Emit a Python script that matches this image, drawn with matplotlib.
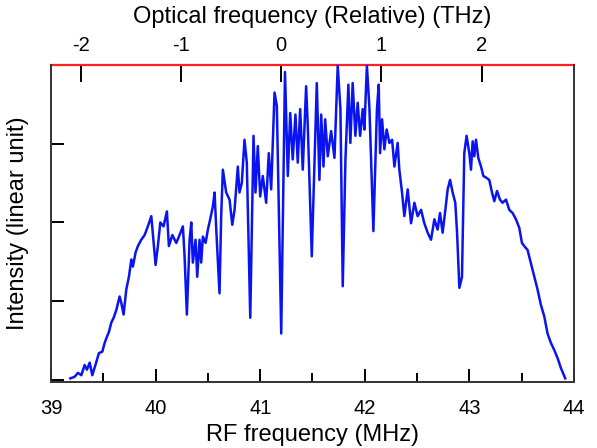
import matplotlib
matplotlib.use('Agg')
import matplotlib.pyplot as plt

rf_mhz = [39.185, 39.226, 39.258, 39.290, 39.322, 39.344, 39.370, 39.395, 39.434, 39.458,
          39.491, 39.513, 39.535, 39.554, 39.577, 39.599, 39.625, 39.656, 39.672, 39.694,
          39.720, 39.745, 39.768, 39.783, 39.809, 39.831, 39.863, 39.895, 39.926, 39.959,
          39.981, 40.000, 40.022, 40.045, 40.076, 40.108, 40.127, 40.160, 40.198, 40.229,
          40.261, 40.277, 40.299, 40.325, 40.341, 40.356, 40.382, 40.398, 40.420, 40.436,
          40.452, 40.478, 40.500, 40.522, 40.547, 40.564, 40.580, 40.611, 40.627, 40.643,
          40.675, 40.707, 40.733, 40.755, 40.786, 40.802, 40.824, 40.850, 40.872, 40.905,
          40.936, 40.955, 40.977, 41.000, 41.025, 41.057, 41.082, 41.105, 41.137, 41.159,
          41.201, 41.237, 41.264, 41.287, 41.311, 41.337, 41.359, 41.382, 41.407, 41.439,
          41.455, 41.493, 41.541, 41.566, 41.583, 41.605, 41.621, 41.646, 41.678, 41.710,
          41.741, 41.767, 41.789, 41.815, 41.843, 41.862, 41.884, 41.910, 41.932, 41.955,
          41.980, 41.996, 42.020, 42.044, 42.082, 42.116, 42.133, 42.146, 42.165, 42.187,
          42.209, 42.235, 42.261, 42.283, 42.314, 42.330, 42.356, 42.378, 42.410, 42.442,
          42.474, 42.505, 42.538, 42.569, 42.601, 42.633, 42.665, 42.696, 42.719, 42.744,
          42.770, 42.792, 42.815, 42.840, 42.865, 42.882, 42.904, 42.929, 42.951, 42.973,
          42.999, 43.015, 43.031, 43.047, 43.063, 43.085, 43.111, 43.133, 43.159, 43.190,
          43.216, 43.238, 43.264, 43.292, 43.317, 43.350, 43.381, 43.413, 43.445, 43.477,
          43.502, 43.524, 43.556, 43.588, 43.620, 43.651, 43.684, 43.715, 43.747, 43.779,
          43.811, 43.842, 43.875, 43.916]

intensidad = [0.02, 0.04, 0.09, 0.06, 0.19, 0.13, 0.22, 0.06, 0.23, 0.34,
              0.36, 0.47, 0.55, 0.61, 0.73, 0.79, 0.89, 1.06, 0.98, 0.83,
              1.15, 1.31, 1.53, 1.44, 1.62, 1.70, 1.78, 1.84, 1.95, 2.08,
              1.74, 1.46, 1.70, 2.00, 1.95, 2.14, 1.70, 1.84, 1.74, 1.84,
              1.95, 1.57, 0.83, 1.78, 2.00, 1.49, 1.78, 1.31, 1.78, 1.49,
              1.82, 1.74, 1.91, 2.04, 2.20, 2.38, 1.91, 1.10, 2.08, 2.67,
              2.38, 2.29, 1.97, 2.16, 2.71, 2.38, 2.50, 3.05, 2.76, 0.79,
              3.10, 2.38, 2.97, 2.33, 2.59, 2.25, 2.88, 2.42, 3.65, 3.48,
              0.59, 3.91, 2.59, 3.39, 2.80, 3.37, 2.76, 3.44, 2.67, 3.73,
              3.22, 1.57, 3.77, 2.54, 3.37, 2.71, 3.31, 2.84, 3.16, 2.82,
              3.99, 3.44, 1.19, 2.80, 3.75, 3.01, 3.77, 3.10, 3.52, 3.10,
              3.44, 3.18, 3.99, 3.46, 1.89, 3.44, 3.75, 2.88, 3.31, 2.93,
              3.18, 3.01, 3.05, 2.71, 3.01, 2.67, 2.38, 2.08, 2.42, 1.99,
              2.25, 2.08, 2.16, 1.99, 1.87, 1.78, 2.04, 1.91, 2.12, 1.87,
              2.16, 2.42, 2.54, 2.38, 2.25, 1.87, 1.17, 1.31, 2.88, 3.10,
              2.88, 2.67, 3.03, 2.84, 3.05, 2.82, 2.71, 2.59, 2.57, 2.54,
              2.38, 2.27, 2.40, 2.29, 2.25, 2.29, 2.16, 2.12, 2.04, 1.93,
              1.74, 1.70, 1.65, 1.48, 1.31, 1.15, 0.95, 0.81, 0.59, 0.47,
              0.38, 0.28, 0.15, 0.02]

rf_ticks = [39, 40, 41, 42, 43, 44]
thz_ticks = [-2, -1, 0, 1, 2]

# ESCALA OPTICA: 0 THz EN 41.20 MHz, 0.958 MHz POR THz
RF_CERO = 41.20
MHZ_POR_THZ = 0.958

def rf_a_thz(x):
    return (x - RF_CERO) / MHZ_POR_THZ

def thz_a_rf(t):
    return t * MHZ_POR_THZ + RF_CERO

plt.rcParams['font.family'] = ['Liberation Sans', 'DejaVu Sans']
plt.rcParams['axes.unicode_minus'] = False

fig = plt.figure(figsize=(5.97, 4.48), dpi=100)
ax = fig.add_axes([0.0854, 0.1484, 0.8761, 0.7066])

ax.plot(rf_mhz, intensidad, color='#0a14f0', lw=1.8)

ax.set_xlim(39, 44)
ax.set_ylim(-0.02, 4.0)
ax.set_xticks(rf_ticks)
ax.set_xticks([39.5, 40.5, 41.5, 42.5, 43.5], minor=True)
ax.set_yticks([0, 1, 2, 3])
ax.set_yticklabels([])

ax.tick_params(axis='x', which='major', direction='in', length=9.5, width=1.4,
               labelsize=14.5, pad=12.7, top=False)
ax.tick_params(axis='x', which='minor', direction='in', length=6.5, width=1.4, top=False)
ax.tick_params(axis='y', direction='in', length=9.5, width=1.4, right=False)

for s in ['left', 'right', 'bottom']:
    ax.spines[s].set_linewidth(1.4)
    ax.spines[s].set_color('#333333')
ax.spines['top'].set_visible(False)

ax.set_xlabel('RF frequency (MHz)', fontsize=17, labelpad=4.5)
ax.set_ylabel('Intensity (linear unit)', fontsize=17, labelpad=12)

sec = ax.secondary_xaxis('top', functions=(rf_a_thz, thz_a_rf))
sec.set_xticks(thz_ticks)
sec.tick_params(axis='x', direction='in', length=12, width=1.4, labelsize=14.5, pad=7.3)
sec.spines['top'].set_color('#ff2020')
sec.spines['top'].set_linewidth(1.6)
sec.set_xlabel('Optical frequency (Relative) (THz)', fontsize=17, labelpad=9)

fig.savefig('out.png', dpi=100)
